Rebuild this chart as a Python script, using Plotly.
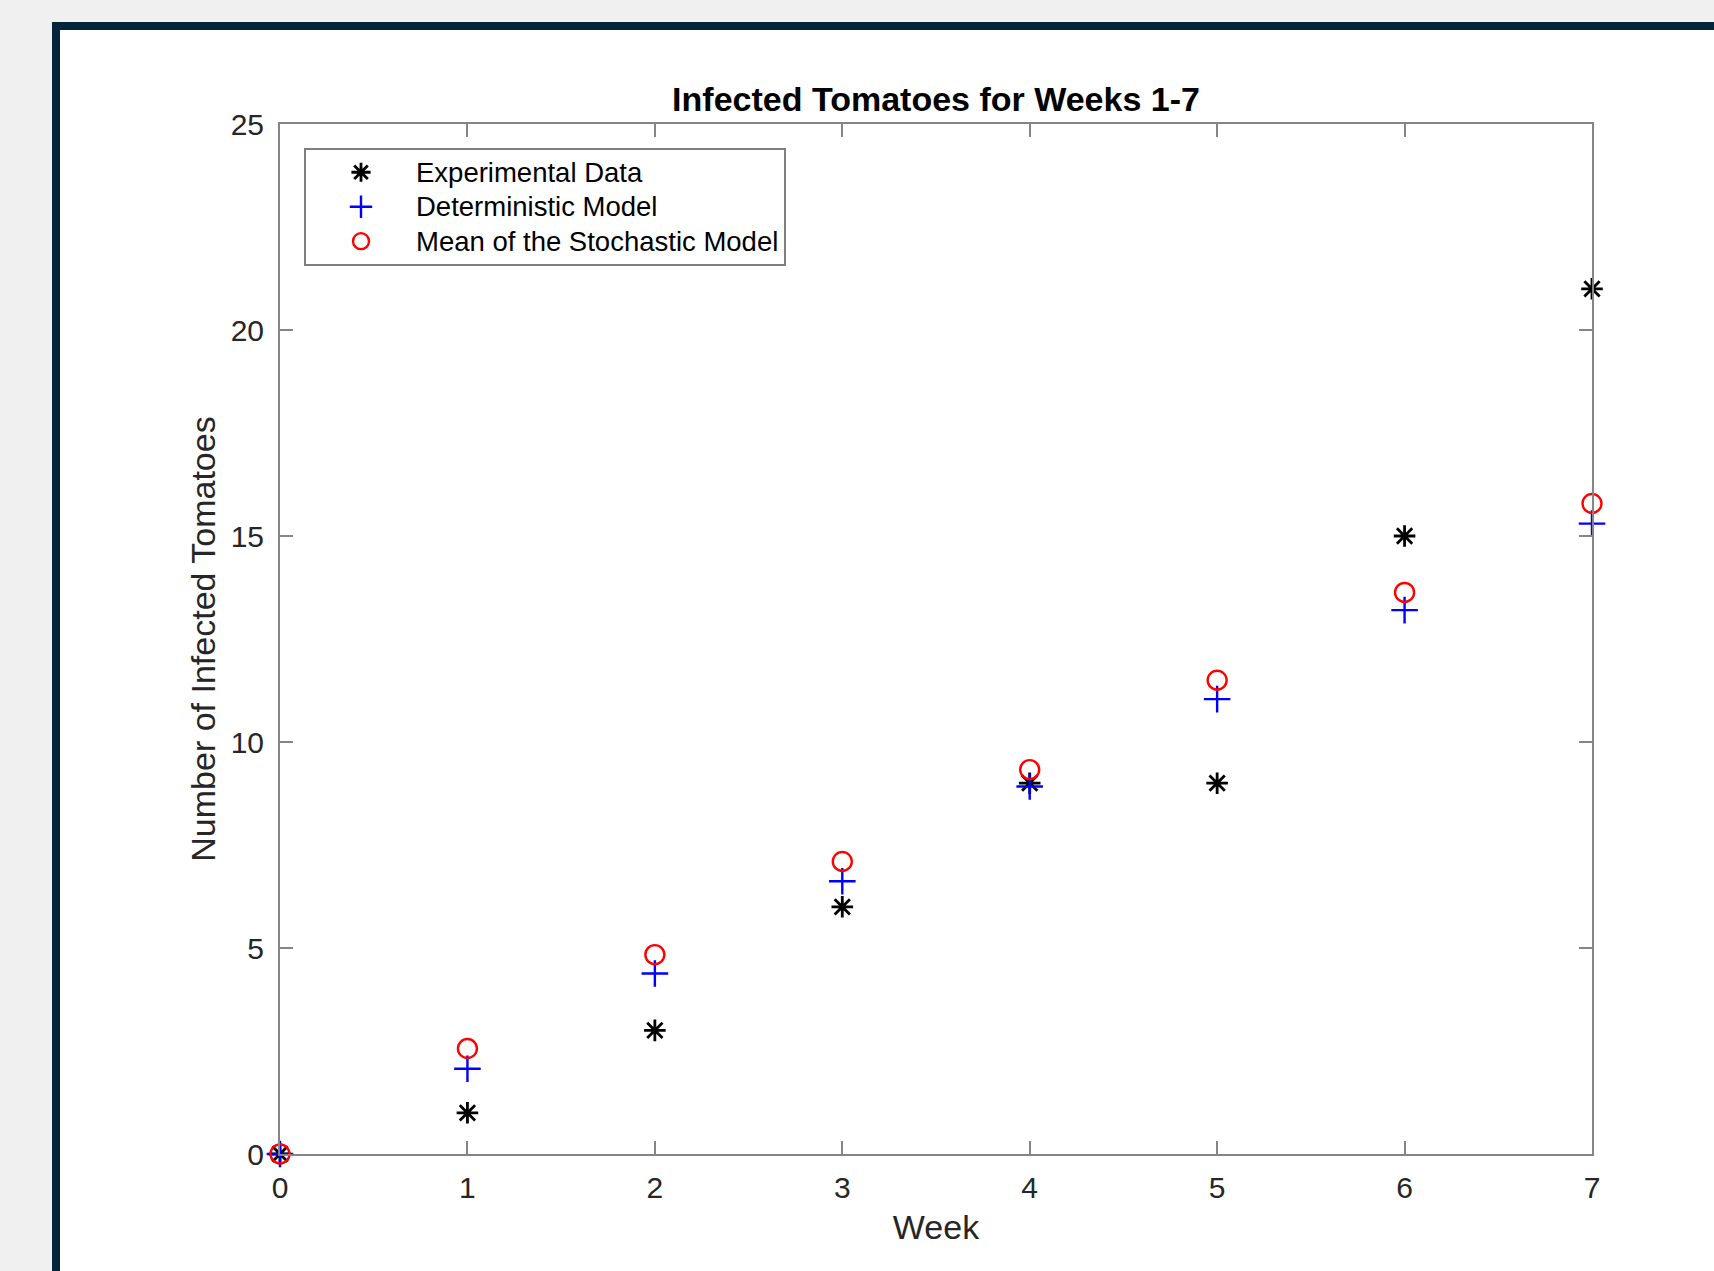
import plotly.graph_objects as go

# Weekly counts of infected tomatoes
weeks = [0, 1, 2, 3, 4, 5, 6, 7]
experimental = [0, 1, 3, 6, 9, 9, 15, 21]
deterministic = [0, 2.07, 4.38, 6.62, 8.92, 11.04, 13.20, 15.30]
stochastic_mean = [0, 2.56, 4.84, 7.10, 9.33, 11.50, 13.63, 15.79]

series_names = ["Experimental Data", "Deterministic Model",
                "Mean of the Stochastic Model"]

x_ticks = [0, 1, 2, 3, 4, 5, 6, 7]
y_ticks = [0, 5, 10, 15, 20, 25]

W, H = 1714, 1271
L, R, T, B = 280, 1592, 124, 1154  # plot area in pixels
PW, PH = R - L, B - T

FONT = "Liberation Sans, Arial, Helvetica, sans-serif"
AXIS_GRAY = "#858585"
TEXT_GRAY = "#262626"
LEGEND_TEXT_PX = 27.5


def px_x(px):
    return (px - L) / PW


def px_y(py):
    return (B - py) / PH


def legend_label(text):
    # legend rows are spaced from the legend font; the label itself is a bit larger
    return f'<span style="font-size:{LEGEND_TEXT_PX}px">{text}</span>'


fig = go.Figure()

fig.add_trace(go.Scatter(
    x=weeks, y=experimental, mode="markers", name=legend_label(series_names[0]),
    marker=dict(symbol="asterisk-open", size=18, color="black",
                line=dict(color="black", width=2.8)),
    cliponaxis=False,
))
fig.add_trace(go.Scatter(
    x=weeks, y=deterministic, mode="markers", name=legend_label(series_names[1]),
    marker=dict(symbol="cross-thin-open", size=19, color="#0000ff",
                line=dict(color="#0000ff", width=2.4)),
    cliponaxis=False,
))
fig.add_trace(go.Scatter(
    x=weeks, y=stochastic_mean, mode="markers", name=legend_label(series_names[2]),
    marker=dict(symbol="circle-open", size=19, color="#ff0000",
                line=dict(color="#ff0000", width=2.4)),
    cliponaxis=False,
))

# white figure panel with a dark frame
fig.add_shape(type="rect", xref="paper", yref="paper",
              x0=px_x(56), x1=px_x(W + 20), y0=px_y(26), y1=px_y(H + 20),
              line=dict(color="#03263a", width=8), fillcolor="white",
              layer="below")

axis_common = dict(
    showline=True, linecolor=AXIS_GRAY, linewidth=2, mirror="ticks",
    ticks="inside", ticklen=13, tickwidth=2, tickcolor=AXIS_GRAY,
    showgrid=False, zeroline=False,
    tickfont=dict(family=FONT, size=30, color=TEXT_GRAY),
)

fig.update_xaxes(range=[0, 7], tickvals=x_ticks, **axis_common,
                 ticklabelstandoff=6,
                 title=dict(text="Week", standoff=12,
                            font=dict(family=FONT, size=34, color=TEXT_GRAY)))
fig.update_yaxes(range=[0, 25], tickvals=y_ticks, **axis_common,
                 ticklabelstandoff=8,
                 title=dict(text="Number of Infected Tomatoes", standoff=5,
                            font=dict(family=FONT, size=34, color=TEXT_GRAY)))

fig.update_layout(
    width=W, height=H,
    margin=dict(l=L, r=W - R, t=T, b=H - B, pad=0),
    paper_bgcolor="#f0f0f0",
    plot_bgcolor="white",
    title=dict(text="<b>Infected Tomatoes for Weeks 1-7</b>",
               x=0.5, xref="paper", y=1 - 99 / H, yref="container",
               xanchor="center", yanchor="middle",
               font=dict(family=FONT, size=34, color="black")),
    legend=dict(x=px_x(304), y=px_y(148), xanchor="left", yanchor="top",
                bgcolor="white", bordercolor="#7f7f7f", borderwidth=2,
                font=dict(family=FONT, size=24.2, color="black"),
                itemwidth=100, tracegroupgap=0),
    showlegend=True,
)

fig.write_html("out.html")
